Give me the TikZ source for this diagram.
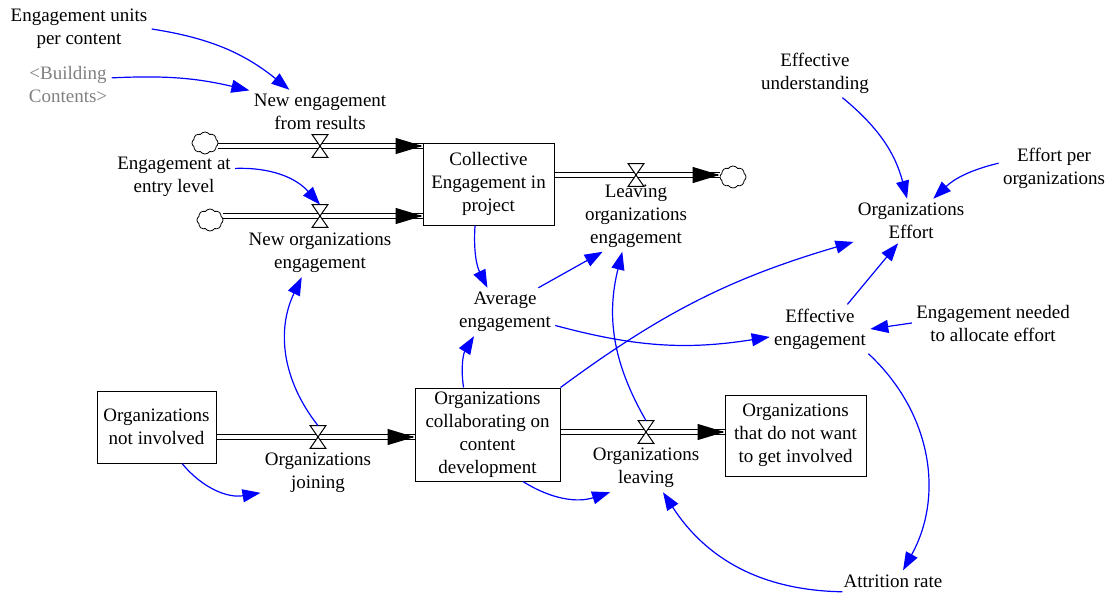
\documentclass[tikz,border=0pt]{standalone}
\usepackage{fontspec}
\setmainfont{Liberation Serif}
\usepackage{xcolor}
\usepackage{tikz}
\usetikzlibrary{math,arrows.meta,shapes.symbols}

\tikzset{
	txt/.style={align=center, inner sep=2pt, font=\fontsize{9.5}{11.5}\selectfont},
	stock/.style={txt, draw, line width=0.5pt, inner sep=0pt},
	cld/.style={cloud, draw, cloud puffs=8, cloud puff arc=110, aspect=1.2, minimum width=13pt, minimum height=11pt, inner sep=0pt, line width=0.4pt},
	valve/.style={inner sep=0pt, minimum width=7.5pt, minimum height=11pt},
	pipe/.style={double, double distance=2pt, line width=0.6pt},
	flowtip/.style={-{Triangle[length=13.5pt,width=8pt]}, line width=0.6pt},
	link/.style={blue, line width=0.6pt, -{Triangle[length=9pt,width=6.5pt]}},
}

\begin{document}
\begin{tikzpicture}[x=0.5pt,y=-0.5pt]
\useasboundingbox (0,0) rectangle (1106,595);
\tikzmath{
	\ya = 146;\yb = 216;\yc = 175;\yd = 437;\ye = 432;
	{\node[stock, minimum width=65.5pt, minimum height=41pt] (ce) at (488.5,184) {Collective\\Engagement in\\project};};
	{\node[stock, minimum width=59.5pt, minimum height=36pt] (oni) at (156.5,427) {Organizations\\not involved};};
	{\node[stock, minimum width=72.5pt, minimum height=46.5pt] (oc) at (487.5,434.5) {Organizations\\collaborating on\\content\\development};};
	{\node[stock, minimum width=70.5pt, minimum height=40.5pt] (ow) at (795.5,435.5) {Organizations\\that do not want\\to get involved};};
	{\node[cld] (c1) at (205,143) {};};
	{\node[cld] (c2) at (210,220) {};};
	{\node[cld] (c3) at (733,177) {};};
	{\node[valve] (v1) at (320,\ya) {};};
	{\node[valve] (v2) at (320,\yb) {};};
	{\node[valve] (v3) at (636,\yc) {};};
	{\node[valve] (v4) at (318,\yd) {};};
	{\node[valve] (v5) at (646,\ye) {};};
	{\coordinate (t1) at (ce.west |- v1);};
	{\coordinate (t2) at (ce.west |- v2);};
	{\coordinate (t3) at (c3.west |- v3);};
	{\coordinate (t4) at (oc.west |- v4);};
	{\coordinate (t5) at (ow.west |- v5);};
	%
	{\draw[pipe] (c1.east |- v1) -- (t1);};
	{\draw[pipe] (c2.east |- v2) -- (t2);};
	{\draw[pipe] (ce.east |- v3) -- (t3);};
	{\draw[pipe] (oni.east |- v4) -- (t4);};
	{\draw[pipe] (oc.east |- v5) -- (t5);};
	{\foreach \v in {v1,v2,v3,v4,v5}
		\draw[fill=white, line width=0.5pt] (\v.north west) -- (\v.north east) -- (\v.south west) -- (\v.south east) -- cycle;};
	{\foreach \t in {t1,t2,t3,t4,t5}
		\draw[flowtip] ([xshift=-1pt]\t) -- (\t);};
	%
	{\path (v1) ++(0,-34) node[txt] (nr) {New engagement\\from results};};
	{\path (v2) ++(0,37) node[txt] (no) {New organizations\\engagement};};
	{\path (v3) ++(0,41) node[txt] (lo) {Leaving\\organizations\\engagement};};
	{\path (v4) ++(0,36) node[txt] (oj) {Organizations\\joining};};
	{\path (v5) ++(0,36) node[txt] (ol) {Organizations\\leaving};};
	{\node[txt] (eu) at (79,29) {Engagement units\\per content};};
	{\node[txt, text=gray] (bc) at (68,84) {<Building\\Contents>};};
	{\node[txt] (ee) at (174,177) {Engagement at\\entry level};};
	{\node[txt] (ae) at (505,312) {Average\\engagement};};
	{\node[txt] (eun) at (815,73) {Effective\\understanding};};
	{\node[txt] (ep) at (1054,168) {Effort per\\organizations};};
	{\node[txt] (oe) at (911,221) {Organizations\\Effort};};
	{\node[txt] (efe) at (820,329) {Effective\\engagement};};
	{\node[txt] (en) at (993,323) {Engagement needed\\to allocate effort};};
	{\node[txt] (ar) at (893,581) {Attrition rate};};
	%
	{\draw[link] (eu.east) to[bend left=15] (nr.144);};
	{\draw[link] (bc.8) to[bend left=8] (nr.163);};
	{\draw[link] (ee.8) to[bend left=25] (v2.north);};
	{\draw[link] (ce.-108) to[bend right=15] (ae.126);};
	{\draw[link] (ae.36) -- (lo.-133);};
	{\draw[link] (ae.-15) to[bend right=12] (efe.-171);};
	{\draw[link] (v4.north) to[bend left=32] (no.-127);};
	{\draw[link] (oc.117) to[bend left=20] (ae.-142);};
	{\draw[link] (oc.north east) to[bend left=10] (oe.-160);};
	{\draw[link] (v5.north) to[bend left=22] (lo.-111);};
	{\draw[link] (oni.-55) to[bend right=30] (oj.-161);};
	{\draw[link] (oc.-53) to[bend right=25] (ol.-146);};
	{\draw[link] (ar.-168) to[bend left=28] (ol.-55);};
	{\draw[link] (efe.-27) to[bend left=38] (ar.47);};
	{\draw[link] (en.west) -- (efe.east);};
	{\draw[link] (efe.42) -- (oe.-120);};
	{\draw[link] (eun.-42) to[bend left=18] (oe.100);};
	{\draw[link] (ep.175) to[bend right=15] (oe.45);};
};
\end{tikzpicture}
\end{document}
